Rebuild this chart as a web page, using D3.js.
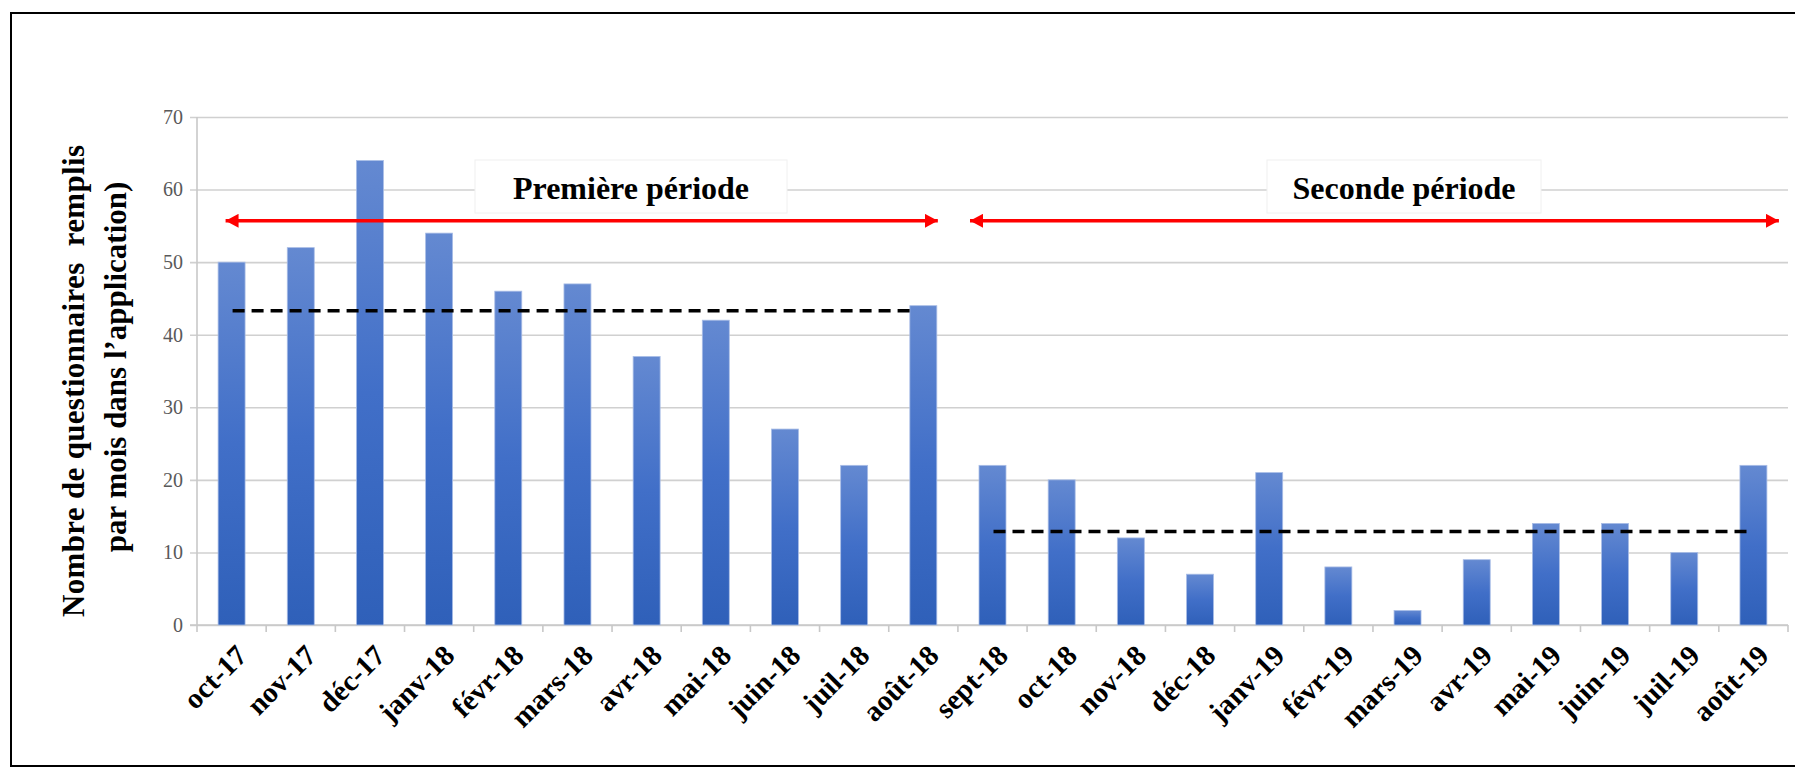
<!DOCTYPE html>
<html>
<head>
<meta charset="utf-8">
<script src="https://cdn.jsdelivr.net/npm/d3@7"></script>
<style>
  html, body { margin: 0; padding: 0; background: #fff; }
  svg { display: block; }
</style>
</head>
<body>
<div id="chart"></div>
<script>
// ---------- data ----------
const categories = ["oct-17","nov-17","déc-17","janv-18","févr-18","mars-18","avr-18","mai-18","juin-18","juil-18","août-18",
                    "sept-18","oct-18","nov-18","déc-18","janv-19","févr-19","mars-19","avr-19","mai-19","juin-19","juil-19","août-19"];
const values = [50,52,64,54,46,47,37,42,27,22,44,22,20,12,7,21,8,2,9,14,14,10,22];
const yTicks = [0,10,20,30,40,50,60,70];
const periodLabels = ["Première période","Seconde période"];
const periodStart = ["oct-17","sept-18"];
const periodEnd = ["août-18","août-19"];
const periodMeans = [43.3, 12.9];
const arrowLevel = 55.7;
const yTitleLines = ["Nombre de questionnaires  remplis","par mois dans l\u2019application)"];

// ---------- layout ----------
const W = 1795, H = 768;
const pLeft = 197, pRight = 1788, pTop = 117, pBottom = 625;
const serif = "'Liberation Serif','Times New Roman',serif";

const svg = d3.select("#chart").append("svg").attr("width", W).attr("height", H);

// outer frame (right side is cut off in the reference)
svg.append("path")
  .attr("d", `M${W+5},13 H11 V766 H${W+5}`)
  .attr("fill", "none").attr("stroke", "#000").attr("stroke-width", 2);

const pad = 0.61;
const x = d3.scaleBand().domain(categories).range([pLeft, pRight]).paddingInner(pad).paddingOuter(pad/2);
const y = d3.scaleLinear().domain([0, 70]).range([pBottom, pTop]);
const cx = c => x(c) + x.bandwidth()/2;

// gradient for bars
const defs = svg.append("defs");
const grad = defs.append("linearGradient").attr("id","barGrad").attr("x1",0).attr("y1",0).attr("x2",0).attr("y2",1);
grad.append("stop").attr("offset","0%").attr("stop-color","#6489d1");
grad.append("stop").attr("offset","50%").attr("stop-color","#416fc8");
grad.append("stop").attr("offset","100%").attr("stop-color","#2f60b9");

// gridlines + y axis
const yAxis = d3.axisLeft(y).tickValues(yTicks).tickSize(-(pRight-pLeft)).tickPadding(14);
const gy = svg.append("g").attr("transform", `translate(${pLeft},0)`).call(yAxis);
gy.select(".domain").remove();
gy.selectAll(".tick line").attr("stroke","#d0d0d0").attr("stroke-width",1.6).attr("x1",-7);
gy.selectAll(".tick text").attr("font-family", serif).attr("font-size", 20).attr("fill","#595959");
svg.append("line").attr("x1",pLeft).attr("x2",pLeft).attr("y1",pTop).attr("y2",pBottom)
  .attr("stroke","#c8c8c8").attr("stroke-width",1.6);

// x axis
const xAxis = d3.axisBottom(x).tickSize(0).tickFormat(d=>d);
const gx = svg.append("g").attr("transform", `translate(0,${pBottom})`).call(xAxis);
gx.select(".domain").remove();
gx.selectAll(".tick text")
  .attr("font-family", serif).attr("font-size", 29).attr("font-weight","bold").attr("fill","#000")
  .attr("text-anchor","end")
  .attr("transform", "translate(10,25) rotate(-45)")
  .attr("y", 0).attr("dy","0.35em").attr("x",0);
svg.append("line").attr("x1",pLeft-7).attr("x2",pRight).attr("y1",pBottom).attr("y2",pBottom)
  .attr("stroke","#c8c8c8").attr("stroke-width",1.6);
const boundaries = categories.map(c => x(c) - x.step()*pad/2).concat([pRight]);
svg.append("g").selectAll("line").data(boundaries).join("line")
  .attr("x1", d=>d).attr("x2", d=>d).attr("y1", pBottom).attr("y2", pBottom+7)
  .attr("stroke","#c8c8c8").attr("stroke-width",1.6);

// bars
svg.append("g").selectAll("rect").data(values).join("rect")
  .attr("x", (d,i)=>x(categories[i]))
  .attr("width", x.bandwidth())
  .attr("y", d=>y(d))
  .attr("height", d=>y(0)-y(d))
  .attr("fill","url(#barGrad)")
  .attr("stroke","#a9bde6").attr("stroke-width",0.8);

// mean dashed lines
svg.append("g").selectAll("line").data(periodMeans).join("line")
  .attr("x1", (d,i)=>cx(periodStart[i]) + 1)
  .attr("x2", (d,i)=>cx(periodEnd[i]) - (i===0 ? 12 : 4))
  .attr("y1", d=>y(d)).attr("y2", d=>y(d))
  .attr("stroke","#000").attr("stroke-width",3.5).attr("stroke-dasharray","12,7");

// red double arrows
defs.append("marker").attr("id","arrEnd").attr("viewBox","0 0 13 14").attr("refX",13).attr("refY",7)
  .attr("markerWidth",13).attr("markerHeight",14).attr("markerUnits","userSpaceOnUse").attr("orient","auto")
  .append("path").attr("d","M0,0 L13,7 L0,14 Z").attr("fill","#ff0000");
defs.append("marker").attr("id","arrStart").attr("viewBox","0 0 13 14").attr("refX",0).attr("refY",7)
  .attr("markerWidth",13).attr("markerHeight",14).attr("markerUnits","userSpaceOnUse").attr("orient","auto")
  .append("path").attr("d","M13,0 L0,7 L13,14 Z").attr("fill","#ff0000");
const arrowX = [
  [cx(periodStart[0]) - 6, x(periodEnd[0]) + x.bandwidth() + 1],
  [x(periodStart[1]) - 9, x(periodEnd[1]) + x.bandwidth() + 12]
];
svg.append("g").selectAll("line").data(arrowX).join("line")
  .attr("x1", d=>d[0]).attr("x2", d=>d[1])
  .attr("y1", y(arrowLevel)).attr("y2", y(arrowLevel))
  .attr("stroke","#ff0000").attr("stroke-width",3.5)
  .attr("marker-start","url(#arrStart)").attr("marker-end","url(#arrEnd)");

// period label boxes
const boxes = [ {x0:475, x1:787}, {x0:1267, x1:1541} ];
const gl = svg.append("g").selectAll("g").data(periodLabels).join("g");
gl.append("rect")
  .attr("x",(d,i)=>boxes[i].x0).attr("width",(d,i)=>boxes[i].x1-boxes[i].x0)
  .attr("y",160).attr("height",53)
  .attr("fill","#fff").attr("stroke","#f0f0f0").attr("stroke-width",1);
gl.append("text")
  .attr("x",(d,i)=>(boxes[i].x0+boxes[i].x1)/2).attr("y",199)
  .attr("text-anchor","middle")
  .attr("font-family", serif).attr("font-size",32).attr("font-weight","bold").attr("fill","#000")
  .text(d=>d);

// y axis title
const yt = svg.append("g");
yt.append("text")
  .attr("transform","translate(73,381) rotate(-90)")
  .attr("text-anchor","middle").attr("dy","0.35em")
  .attr("font-family", serif).attr("font-size",31).attr("font-weight","bold")
  .attr("textLength",472).attr("lengthAdjust","spacing")
  .style("white-space","pre")
  .text(yTitleLines[0]);
yt.append("text")
  .attr("transform","translate(115,367) rotate(-90)")
  .attr("text-anchor","middle").attr("dy","0.35em")
  .attr("font-family", serif).attr("font-size",31).attr("font-weight","bold")
  .text(yTitleLines[1]);
</script>
</body>
</html>
